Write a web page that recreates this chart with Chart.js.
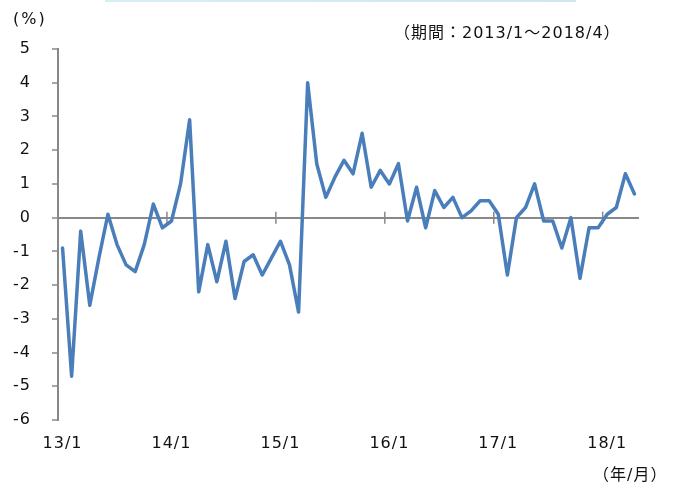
<!DOCTYPE html>
<html>
<head>
<meta charset="utf-8">
<script src="https://cdn.jsdelivr.net/npm/chart.js@4/dist/chart.umd.min.js"></script>
<style>
  body { margin: 0; background: #fff; }
  #wrap { position: relative; width: 676px; height: 484px; }
  #topbar { position: absolute; left: 105px; top: 0; width: 471px; height: 2px;
            background: linear-gradient(90deg, #d6eff4, #cfe8ef); }
  .note { position: absolute; font: 16px "DejaVu Sans", "Noto Sans CJK JP", sans-serif;
          letter-spacing: 1px; line-height: 20px; color: #111; white-space: nowrap; }
</style>
</head>
<body>
<div id="wrap">
  <canvas id="chart" width="676" height="484"></canvas>
  <div id="topbar"></div>
  <div class="note" style="left:13px; top:9px; letter-spacing:2px;">(%)</div>
  <div class="note" style="left:394px; top:23px;">（期間：2013/1～2018/4）</div>
  <div class="note" style="left:593px; top:465px;">（年/月）</div>
</div>
<script>
// 2013/1 〜 2018/4 月次
const categories = [];
for (let y = 2013; y <= 2018; y++) {
  for (let m = 1; m <= 12; m++) {
    if (y === 2018 && m > 4) break;
    categories.push(String(y).slice(2) + '/' + m);
  }
}

const values = [
  -0.9, -4.7, -0.4, -2.6, -1.2,  0.1, -0.8, -1.4, -1.6, -0.8,  0.4, -0.3,
  -0.1,  1.0,  2.9, -2.2, -0.8, -1.9, -0.7, -2.4, -1.3, -1.1, -1.7, -1.2,
  -0.7, -1.4, -2.8,  4.0,  1.6,  0.6,  1.2,  1.7,  1.3,  2.5,  0.9,  1.4,
   1.0,  1.6, -0.1,  0.9, -0.3,  0.8,  0.3,  0.6,  0.0,  0.2,  0.5,  0.5,
   0.1, -1.7,  0.0,  0.3,  1.0, -0.1, -0.1, -0.9,  0.0, -1.8, -0.3, -0.3,
   0.1,  0.3,  1.3,  0.7
];

const yTicks = { min: -6, max: 5, step: 1 };

const AXIS = '#888888';
const FONT = { family: 'DejaVu Sans', size: 16 };

// 年の区切り（x/1 の手前）に 0 線をまたぐ目盛りを描く
const zeroTicks = {
  id: 'zeroTicks',
  beforeDatasetsDraw(chart){
    const xs = chart.scales.x, ys = chart.scales.y;
    const y0 = ys.getPixelForValue(0);
    const ctx = chart.ctx;
    ctx.save();
    ctx.strokeStyle = AXIS;
    ctx.lineWidth = 1.5;
    categories.forEach((c, i) => {
      if (i === 0 || !c.endsWith('/1')) return;
      const x = (xs.getPixelForValue(i - 1) + xs.getPixelForValue(i)) / 2;
      ctx.beginPath();
      ctx.moveTo(x, y0 - 6);
      ctx.lineTo(x, y0 + 6);
      ctx.stroke();
    });
    ctx.restore();
  }
};

const spacing = {
  id: 'spacing',
  beforeDraw(chart){ chart.ctx.letterSpacing = '1px'; }
};

new Chart(document.getElementById('chart').getContext('2d'), {
  type: 'line',
  data: {
    labels: categories,
    datasets: [{
      data: values,
      borderColor: '#4a7ebb',
      borderWidth: 3.5,
      borderJoinStyle: 'round',
      borderCapStyle: 'round',
      pointRadius: 0,
      tension: 0,
      fill: false
    }]
  },
  options: {
    responsive: false,
    animation: false,
    events: [],
    layout: { padding: { top: 49, right: 37, bottom: 24, left: 0 } },
    plugins: { legend: { display: false }, tooltip: { enabled: false } },
    scales: {
      x: {
        offset: true,
        grid: { display: false, drawTicks: false },
        border: { display: false },
        ticks: {
          autoSkip: false, maxRotation: 0, padding: 14,
          color: '#111', font: FONT,
          callback: (v, i) => i % 12 === 0 ? categories[i] : ''
        },
        afterFit: s => { s.height = 40; }
      },
      y: {
        min: yTicks.min, max: yTicks.max,
        ticks: { stepSize: yTicks.step, padding: 21, color: '#111', font: FONT },
        grid: {
          color: ctx => ctx.tick && ctx.tick.value === 0 ? AXIS : 'transparent',
          lineWidth: 2,
          tickColor: AXIS, tickLength: 6, tickWidth: 1.5
        },
        border: { color: AXIS, width: 2 },
        afterFit: s => { s.width = 58; }
      }
    }
  },
  plugins: [zeroTicks, spacing]
});
</script>
</body>
</html>
